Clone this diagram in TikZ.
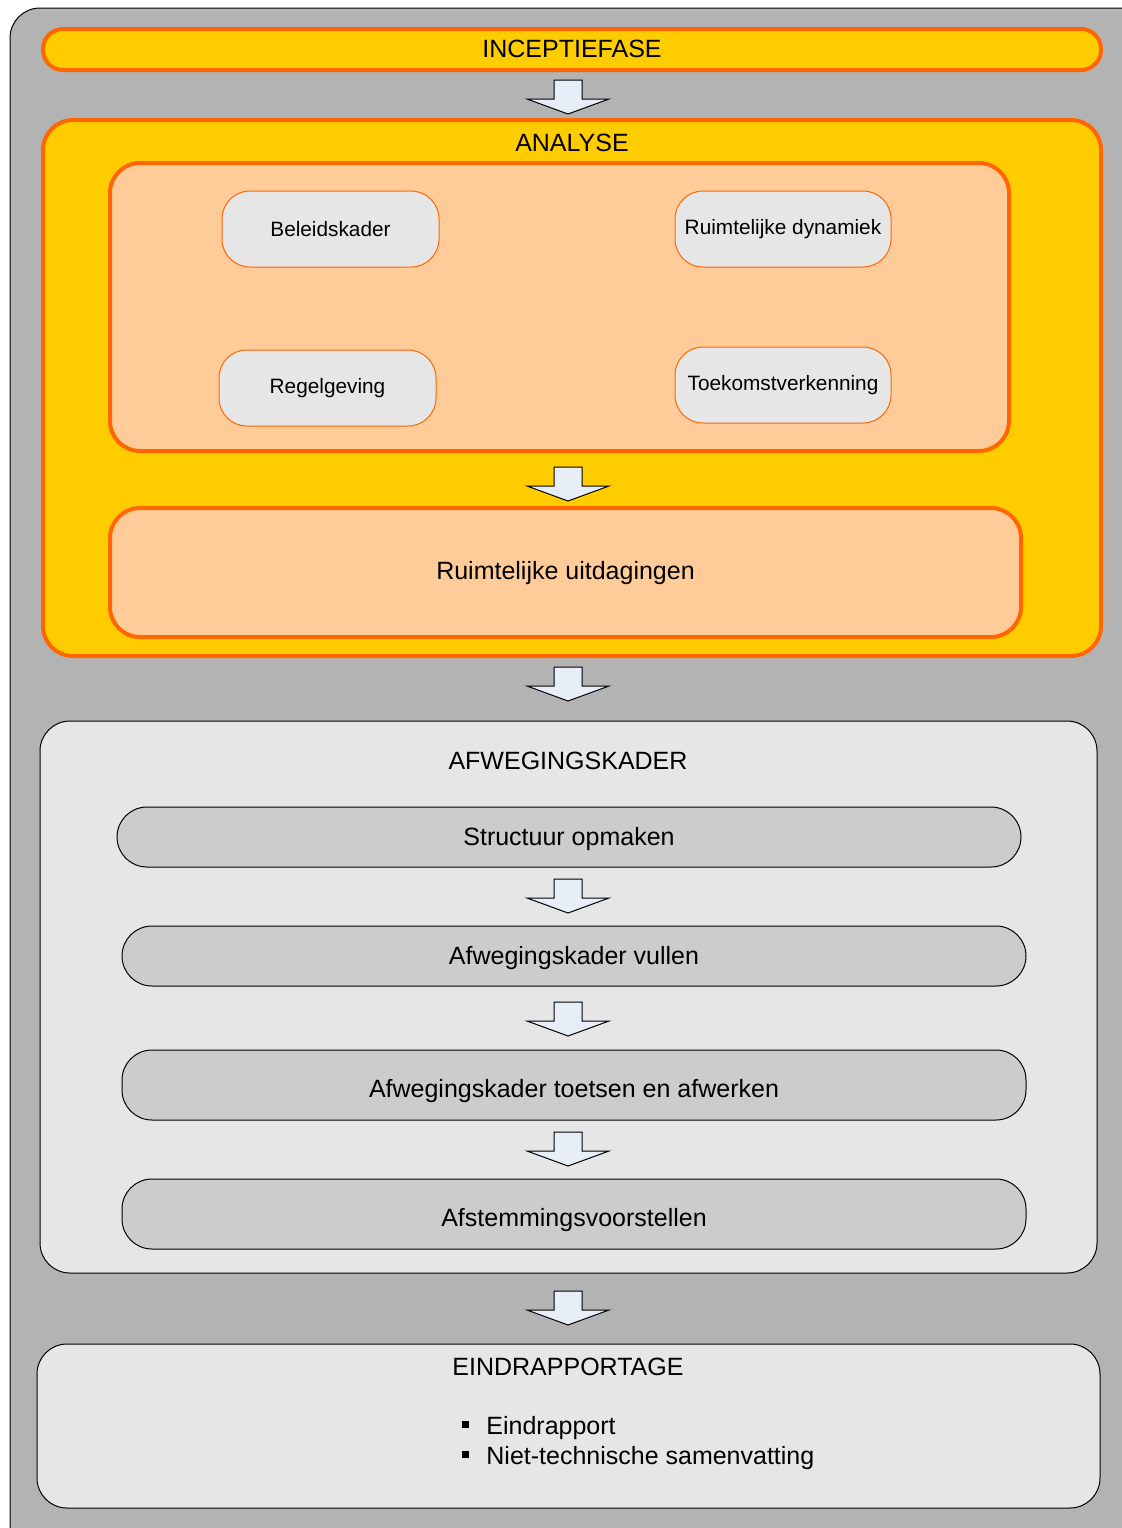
\documentclass[tikz,border=0pt]{standalone}
\usepackage{fontspec}
\setmainfont{Liberation Sans}
\definecolor{outergray}{HTML}{B3B3B3}
\definecolor{phyellow}{HTML}{FFCC00}
\definecolor{phorange}{HTML}{FF6600}
\definecolor{peach}{HTML}{FFCC99}
\definecolor{lightgray}{HTML}{E6E6E6}
\definecolor{midgray}{HTML}{CCCCCC}
\definecolor{arrowfill}{HTML}{E8EEF8}
\newcommand\bigfont{\fontsize{12.5}{15}\selectfont}
\newcommand\smallfont{\fontsize{10.4}{12.5}\selectfont}
\tikzset{
  x=0.5pt, y=-0.5pt,
  phasebox/.style={draw=phorange, line width=2pt, fill=phyellow, rounded corners=15pt},
  peachbox/.style={draw=phorange, line width=2pt, fill=peach, rounded corners=15pt},
  topicbox/.style={draw=phorange, line width=0.5pt, fill=lightgray, rounded corners=14pt},
  stagebox/.style={draw=black, line width=0.5pt, fill=lightgray, rounded corners=15pt},
  stepbox/.style={draw=black, line width=0.5pt, fill=midgray, rounded corners=15pt},
  blockarrow/.style={draw=black, line width=0.5pt, fill=arrowfill, line join=miter},
  downarrow/.pic={\draw[blockarrow] (-14,0) -- (14,0) -- (14,19) -- (41,19) -- (0,34) -- (-41,19) -- (-14,19) -- cycle;},
  lbl/.style={font=\bigfont, text=black},
  slbl/.style={font=\smallfont, text=black},
}
\begin{document}
\begin{tikzpicture}
\useasboundingbox (0,0) rectangle (1122,1528);
% outer background
\draw[fill=outergray, draw=black, line width=0.5pt, rounded corners=15pt] (10,8) rectangle (1150,1560);

% INCEPTIEFASE
\draw[phasebox, rounded corners=10pt] (43,29) rectangle (1101,70);
\node[lbl] (incept) at (572,49) {INCEPTIEFASE};
\pic at (568,80) {downarrow};

% ANALYSE
\draw[phasebox] (43,120) rectangle (1101,656);
\node[lbl] (analyse) at (572,143) {ANALYSE};
\draw[peachbox] (110,163) rectangle (1009,451);
\draw[topicbox] (222,191) rectangle (439,267);
\node[slbl] (beleid) at (330.5,229) {Beleidskader};
\draw[topicbox] (675,191) rectangle (891,267);
\node[slbl] (dynamiek) at (783,229) {Ruimtelijke dynamiek};
\draw[topicbox] (219,350) rectangle (436,426);
\node[slbl] (regel) at (327.5,388) {Regelgeving};
\draw[topicbox] (675,347) rectangle (891,423);
\node[slbl] (toekomst) at (783,385) {Toekomstverkenning};
\pic at (568,467) {downarrow};
\draw[peachbox] (110,508) rectangle (1021,637);
\node[lbl] (uitdag) at (565.5,573) {Ruimtelijke uitdagingen};
\pic at (568,667) {downarrow};

% AFWEGINGSKADER
\draw[stagebox] (40,721) rectangle (1097,1273);
\node[lbl] (afweg) at (568,761) {AFWEGINGSKADER};
\draw[stepbox] (117,807) rectangle (1021,867);
\node[lbl] (structuur) at (569,839) {Structuur opmaken};
\pic at (568,879) {downarrow};
\draw[stepbox] (122,926) rectangle (1026,986);
\node[lbl] (vullen) at (574,958) {Afwegingskader vullen};
\pic at (568,1002) {downarrow};
\draw[stepbox] (122,1050) rectangle (1026,1120);
\node[lbl] (toetsen) at (574,1091) {Afwegingskader toetsen en afwerken};
\pic at (568,1132) {downarrow};
\draw[stepbox] (122,1179) rectangle (1026,1249);
\node[lbl] (afstem) at (574,1220) {Afstemmingsvoorstellen};
\pic at (568,1291) {downarrow};

% EINDRAPPORTAGE
\draw[stagebox] (37,1344) rectangle (1100,1508);
\node[lbl] (eind) at (568,1367) {EINDRAPPORTAGE};
\node[lbl, anchor=west, inner sep=0pt] (b1) at (486,1428) {Eindrapport};
\node[lbl, anchor=west, inner sep=0pt] (b2) at (486,1458) {Niet-technische samenvatting};
\fill[black] (462,1421) rectangle (469,1428);
\fill[black] (462,1451) rectangle (469,1458);
\end{tikzpicture}
\end{document}
